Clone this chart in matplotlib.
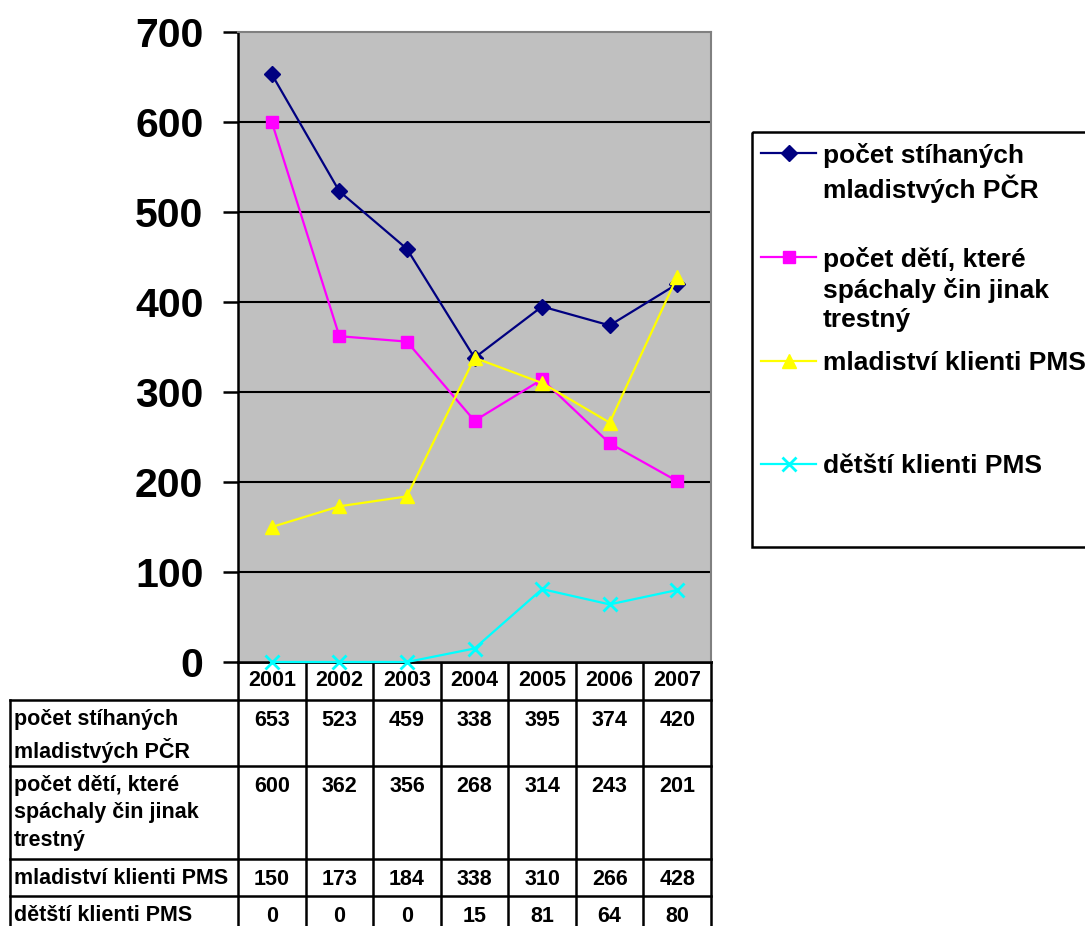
import matplotlib
matplotlib.use("Agg")
import matplotlib.pyplot as plt
from matplotlib.patches import Rectangle

plt.rcParams['font.family'] = ['Liberation Sans', 'DejaVu Sans']
plt.rcParams['font.weight'] = 'bold'

years = ["2001", "2002", "2003", "2004", "2005", "2006", "2007"]
stihani = [653, 523, 459, 338, 395, 374, 420]
deti_cin = [600, 362, 356, 268, 314, 243, 201]
mladistvi_pms = [150, 173, 184, 338, 310, 266, 428]
deti_pms = [0, 0, 0, 15, 81, 64, 80]

labels_legend = ["počet stíhaných\nmladistvých PČR",
                 "počet dětí, které\nspáchaly čin jinak\ntrestný",
                 "mladiství klienti PMS",
                 "dětští klienti PMS"]
labels_table = ["počet stíhaných\nmladistvých PČR",
                "počet dětí, které\nspáchaly čin jinak\ntrestný",
                "mladiství klienti PMS",
                "dětští klienti PMS"]
colors = ["#000080", "#FF00FF", "#FFFF00", "#00FFFF"]
markers = ["D", "s", "^", "x"]
series = [stihani, deti_cin, mladistvi_pms, deti_pms]

W, H = 1085, 926
fig = plt.figure(figsize=(W / 100, H / 100), dpi=100)

# plot area in pixels
px0, px1, py0, py1 = 238, 711, 32, 662


def frac(x0, y0, x1, y1):
    return [x0 / W, 1 - y1 / H, (x1 - x0) / W, (y1 - y0) / H]


ax = fig.add_axes(frac(px0, py0, px1, py1))
ax.set_facecolor("#C0C0C0")
xs = list(range(len(years)))
msizes = [8.5, 9, 10, 10]
for vals, c, m, ms in zip(series, colors, markers, msizes):
    ax.plot(xs, vals, color=c, lw=1.6, marker=m, ms=ms, mew=2 if m == "x" else 1,
            mec=c, mfc=c, clip_on=False, zorder=3)
ax.set_xlim(-0.5, len(years) - 0.5)
ax.set_ylim(0, 700)
ax.set_yticks(range(0, 701, 100))
ax.set_xticks([])
ax.tick_params(axis="y", length=11, width=1.8, pad=14, labelsize=29.5, color="black")
for t in ax.get_yticklabels():
    t.set_fontweight("bold")
for y in range(100, 700, 100):
    ax.axhline(y, color="black", lw=1.5, zorder=1)
ax.spines["left"].set_color("black")
ax.spines["left"].set_linewidth(1.8)
ax.spines["bottom"].set_color("black")
ax.spines["bottom"].set_linewidth(1.8)
ax.spines["top"].set_color("#808080")
ax.spines["top"].set_linewidth(1.5)
ax.spines["right"].set_color("#808080")
ax.spines["right"].set_linewidth(1.5)

# overlay in pixel coordinates for table and legend
ov = fig.add_axes([0, 0, 1, 1], zorder=-1)
ov.set_xlim(0, W)
ov.set_ylim(H, 0)
ov.axis("off")

tab_left = 10
col_w = (px1 - px0) / len(years)
row_tops = [700, 766, 859, 896, 930]
lw = 1.8
fs_tab = 15.5

# header row with years
ov.plot([px0, px1], [py1, py1], color="black", lw=lw)
for i in range(len(years) + 1):
    x = px0 + i * col_w
    ov.plot([x, x], [py1, H], color="black", lw=lw)
for i, yr in enumerate(years):
    ov.text(px0 + (i + 0.5) * col_w, 681, yr, ha="center", va="center",
            fontsize=fs_tab, fontweight="bold")
ov.plot([tab_left, tab_left], [row_tops[0], H], color="black", lw=lw)
for y in row_tops[:-1]:
    ov.plot([tab_left, px1], [y, y], color="black", lw=lw)
for r, (lab, vals) in enumerate(zip(labels_table, series)):
    top = row_tops[r] + 10
    ov.text(14, top - 1, lab, ha="left", va="top", fontsize=fs_tab,
            fontweight="bold", linespacing=1.4)
    for i, v in enumerate(vals):
        ov.text(px0 + (i + 0.5) * col_w, top, str(v), ha="center", va="top",
                fontsize=fs_tab, fontweight="bold")

# legend
ov.add_patch(Rectangle((752, 132), 400, 415, fill=False, ec="black", lw=1.8))
leg_y = [153, 257, 361, 464]
for lab, c, m, ms, y in zip(labels_legend, colors, markers, msizes, leg_y):
    ov.plot([761, 816], [y, y], color=c, lw=1.6)
    ov.plot([788.5], [y], color=c, marker=m, ms=ms, mew=2 if m == "x" else 1,
            mec=c, mfc=c)
    ov.text(823, y - 10, lab, ha="left", va="top", fontsize=19,
            fontweight="bold", linespacing=1.28)

fig.savefig("out.png", dpi=100)
